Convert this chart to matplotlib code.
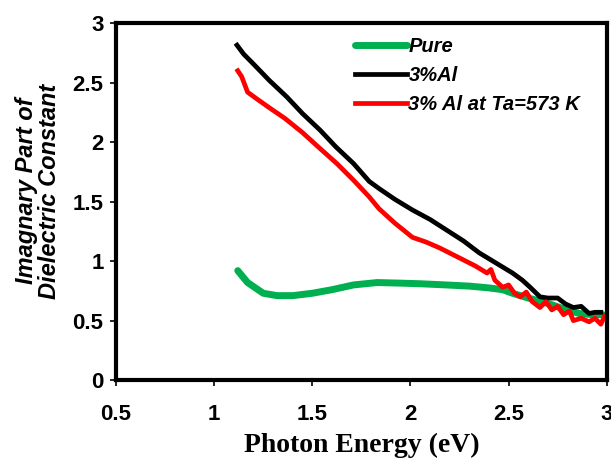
import numpy as np
import matplotlib
matplotlib.use("Agg")
import matplotlib.pyplot as plt

# values
pure_e = [1.12, 1.17, 1.25, 1.32, 1.40, 1.50, 1.60, 1.71, 1.83, 1.95, 2.05, 2.18, 2.30, 2.40,
          2.47, 2.52, 2.60, 2.69, 2.78, 2.86, 2.93, 2.98]
pure_v = [0.92, 0.82, 0.73, 0.71, 0.71, 0.73, 0.76, 0.80, 0.82, 0.815, 0.81, 0.80, 0.79, 0.775,
          0.76, 0.73, 0.69, 0.65, 0.60, 0.56, 0.55, 0.55]

al_e = [1.116, 1.15, 1.198, 1.28, 1.37, 1.45, 1.54, 1.62, 1.71, 1.79, 1.84, 1.92, 2.01, 2.10,
        2.185, 2.27, 2.35, 2.43, 2.52, 2.57, 2.61, 2.66, 2.70, 2.75, 2.79, 2.83, 2.87, 2.91,
        2.94, 2.97]
al_v = [2.815, 2.74, 2.66, 2.52, 2.38, 2.24, 2.10, 1.96, 1.82, 1.67, 1.61, 1.52, 1.43, 1.35,
        1.26, 1.17, 1.07, 0.99, 0.90, 0.84, 0.78, 0.70, 0.69, 0.69, 0.64, 0.61, 0.62, 0.56,
        0.57, 0.57]

ann_e = [1.12, 1.14, 1.17, 1.22, 1.28, 1.36, 1.45, 1.53, 1.625, 1.71, 1.79, 1.84, 1.92, 2.01,
         2.08, 2.15, 2.21, 2.27, 2.33, 2.39, 2.41, 2.43, 2.47, 2.50, 2.53, 2.56, 2.59, 2.62,
         2.66, 2.69, 2.72, 2.75, 2.78, 2.81, 2.83, 2.87, 2.91, 2.94, 2.97, 2.99]
ann_v = [2.60, 2.55, 2.42, 2.36, 2.29, 2.20, 2.08, 1.96, 1.82, 1.68, 1.54, 1.44, 1.32, 1.20,
         1.16, 1.11, 1.06, 1.01, 0.96, 0.90, 0.93, 0.84, 0.78, 0.80, 0.73, 0.70, 0.74, 0.66,
         0.61, 0.66, 0.59, 0.62, 0.55, 0.58, 0.50, 0.52, 0.49, 0.52, 0.47, 0.54]

xticks = [0.5, 1, 1.5, 2, 2.5, 3]
xtick_labels = ["0.5", "1", "1.5", "2", "2.5", "3"]
yticks = [0, 0.5, 1, 1.5, 2, 2.5, 3]
ytick_labels = ["0", "0.5", "1", "1.5", "2", "2.5", "3"]

plt.rcParams['font.family'] = ['Liberation Sans', 'DejaVu Sans']

fig = plt.figure(figsize=(6.11, 4.63), dpi=100)
ax = fig.add_axes([0.190, 0.179, 0.803, 0.771])

ax.plot(pure_e, pure_v, color='#00b050', lw=5.0, label='Pure', solid_capstyle='round')
ax.plot(al_e, al_v, color='black', lw=3.4, label='3%Al')
ax.plot(ann_e, ann_v, color='#ff0000', lw=3.4, label='3% Al at Ta=573 K')

ax.set_xlim(0.5, 3)
ax.set_ylim(0, 3)
ax.set_xticks(xticks)
ax.set_xticklabels(xtick_labels)
ax.set_yticks(yticks)
ax.set_yticklabels(ytick_labels)

for s in ax.spines.values():
    s.set_linewidth(3.0)
ax.tick_params(direction='out', length=4, width=1.2, pad=5, labelsize=16)
ax.tick_params(axis='x', pad=13)
for lab in ax.get_xticklabels() + ax.get_yticklabels():
    lab.set_fontweight('bold')

ax.set_xlabel('Photon Energy (eV)', family='Liberation Serif', fontweight='bold',
              fontsize=20, labelpad=6)
ax.set_ylabel('Imagnary Part of\nDielectric Constant', fontstyle='italic',
              fontweight='bold', fontsize=17, linespacing=1.0)
ax.yaxis.set_label_coords(-0.112, 0.53)

leg = ax.legend(loc='upper left', bbox_to_anchor=(0.45, 1.012), frameon=False,
                prop={'style': 'italic', 'weight': 'bold', 'size': 14.5},
                handlelength=2.6, handletextpad=0.05, labelspacing=0.5,
                borderaxespad=0.5)

fig.savefig('out.png', dpi=100)
